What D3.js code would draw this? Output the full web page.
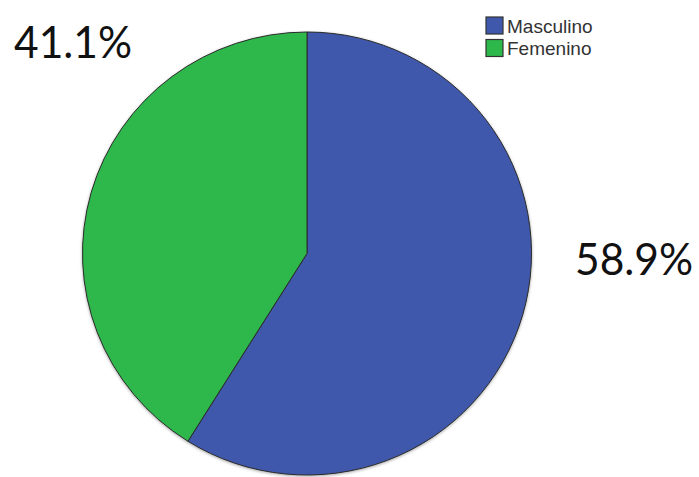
<!DOCTYPE html>
<html>
<head>
<meta charset="utf-8">
<script src="https://cdn.jsdelivr.net/npm/d3@7"></script>
<style>
  body { margin: 0; background: #fff; }
</style>
</head>
<body>
<div id="chart"></div>
<script>
// Sexo: porcentajes
const categories = ["Masculino", "Femenino"];
const values = [58.9, 41.1];
const labels = ["58.9%", "41.1%"];
const colors = ["#3f58ab", "#2db84b"];

const width = 699, height = 477;
const cx = 307, cy = 253.5, rx = 224.5, ry = 221.5;

const svg = d3.select("#chart").append("svg")
    .attr("width", width)
    .attr("height", height);

const defs = svg.append("defs");
const f = defs.append("filter").attr("id", "shadow")
    .attr("x", "-10%").attr("y", "-10%").attr("width", "120%").attr("height", "120%");
f.append("feDropShadow")
    .attr("dx", 0).attr("dy", 1)
    .attr("stdDeviation", 1.5)
    .attr("flood-color", "#000")
    .attr("flood-opacity", 0.35);

const color = d3.scaleOrdinal().domain(categories).range(colors);

const pie = d3.pie().sort(null).value(d => d.value);
const arc = d3.arc().innerRadius(0).outerRadius(ry);

const data = categories.map((c, i) => ({ name: c, value: values[i] }));

const g = svg.append("g")
    .attr("transform", `translate(${cx},${cy}) scale(${rx / ry},1)`)
    .attr("filter", "url(#shadow)");

g.selectAll("path")
    .data(pie(data))
    .enter().append("path")
    .attr("d", arc)
    .attr("fill", d => color(d.data.name))
    .attr("stroke", "#2a2a2a")
    .attr("stroke-width", 1)
    .attr("vector-effect", "non-scaling-stroke");

// percentage labels
const labelPos = [
    { x: 575, y: 275 },
    { x: 14, y: 58 }
];
svg.selectAll(".pct")
    .data(labels)
    .enter().append("text")
    .attr("class", "pct")
    .attr("x", (d, i) => labelPos[i].x)
    .attr("y", (d, i) => labelPos[i].y)
    .attr("textLength", 118)
    .attr("lengthAdjust", "spacingAndGlyphs")
    .style("font-family", "Lato, 'Open Sans', sans-serif")
    .style("font-size", "45px")
    .style("fill", "#111")
    .text(d => d);

// legend
const legend = svg.append("g").attr("transform", "translate(486,17)");
const item = legend.selectAll(".item")
    .data(categories)
    .enter().append("g")
    .attr("class", "item")
    .attr("transform", (d, i) => `translate(0,${i * 22.5})`);

item.append("rect")
    .attr("width", 17)
    .attr("height", 17)
    .attr("fill", d => color(d))
    .attr("stroke", "#333")
    .attr("stroke-width", 1.2);

item.append("text")
    .attr("x", 21)
    .attr("y", 15.5)
    .style("font-family", "'Liberation Sans Narrow', 'Liberation Sans', Arial, sans-serif")
    .style("font-size", "19px")
    .style("fill", "#333")
    .text(d => d);
</script>
</body>
</html>
